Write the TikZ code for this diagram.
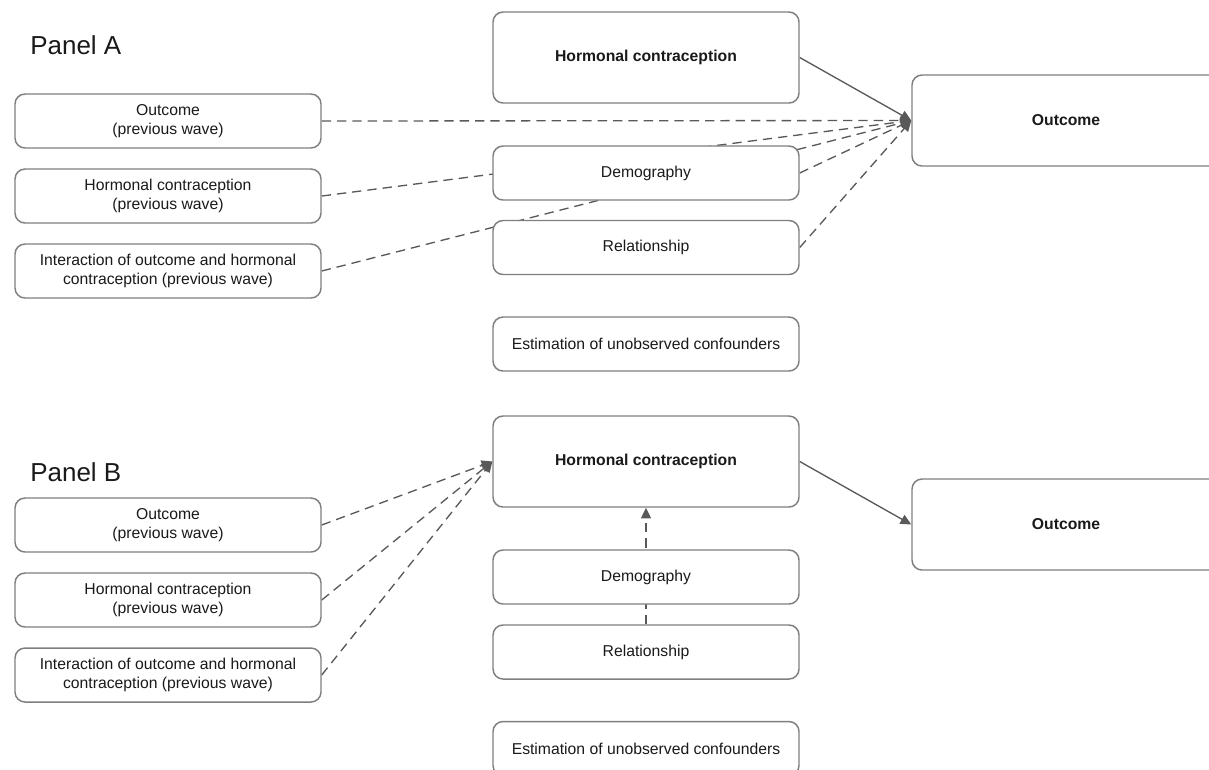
\documentclass[tikz,border=0pt]{standalone}
\usepackage{fontspec}
\setmainfont{Liberation Sans}
\usetikzlibrary{arrows.meta}
\pgfdeclarelayer{bg}
\pgfsetlayers{bg,main}
\definecolor{boxgray}{HTML}{7F7F7F}
\definecolor{linegray}{HTML}{595959}
\definecolor{txt}{HTML}{1A1A1A}
\begin{document}
\begin{tikzpicture}[x=0.75pt,y=-0.75pt,
  box/.style={draw=boxgray, fill=white, rounded corners=7.5pt, line width=1.1pt, align=center, inner sep=0pt, text=txt, font=\fontsize{11.8}{14.3}\selectfont, minimum width=229.5pt, minimum height=40.5pt},
  bigbox/.style={box, minimum height=68.25pt, font=\fontsize{11.8}{14.3}\selectfont\bfseries},
  conn/.style={draw=linegray, line width=1pt, -{Triangle[length=8pt,width=7.5pt]}},
  dconn/.style={conn, dash pattern=on 7pt off 4.5pt},
  panel/.style={font=\fontsize{19.5}{23}\selectfont, anchor=west, inner sep=0pt, text=txt}
]
\path[use as bounding box] (0,0) rectangle (1209,769);
\clip (0,0) rectangle (1209,769);

% Panel A
\node[panel] (pa) at (30,45) {Panel A};
\node[box] (aop) at (168,121) {Outcome\\(previous wave)};
\node[box] (ahp) at (168,196) {Hormonal contraception\\(previous wave)};
\node[box] (aip) at (168,271) {Interaction of outcome and hormonal\\contraception (previous wave)};
\node[bigbox] (ahc) at (646,57.5) {Hormonal contraception};
\node[box] (adem) at (646,173) {Demography};
\node[box] (arel) at (646,247.5) {Relationship};
\node[box] (aest) at (646,344) {Estimation of unobserved confounders};
\node[bigbox, minimum width=231pt] (aout) at (1066,120.5) {Outcome};

% Panel B
\node[panel] (pb) at (30,472) {Panel B};
\node[box] (bop) at (168,525) {Outcome\\(previous wave)};
\node[box] (bhp) at (168,600) {Hormonal contraception\\(previous wave)};
\node[box] (bip) at (168,675) {Interaction of outcome and hormonal\\contraception (previous wave)};
\node[bigbox] (bhc) at (646,461.5) {Hormonal contraception};
\node[box] (bdem) at (646,577) {Demography};
\node[box] (brel) at (646,652) {Relationship};
\node[box] (best) at (646,748.5) {Estimation of unobserved confounders};
\node[bigbox, minimum width=231pt] (bout) at (1066,524.5) {Outcome};

\begin{pgfonlayer}{bg}
  \draw[conn] (ahc.east) -- (aout.west);
  \draw[dconn] (aop.east) -- (aout.west);
  \draw[dconn] (ahp.east) -- (aout.west);
  \draw[dconn] (aip.east) -- (aout.west);
  \draw[dconn] (adem.east) -- (aout.west);
  \draw[dconn] (arel.east) -- (aout.west);

  \draw[dconn] (bop.east) -- (bhc.west);
  \draw[dconn] (bhp.east) -- (bhc.west);
  \draw[dconn] (bip.east) -- (bhc.west);
  \draw[conn] (bhc.east) -- (bout.west);
  \draw[dconn] (brel.north) -- (bhc.south);
\end{pgfonlayer}
\end{tikzpicture}
\end{document}
